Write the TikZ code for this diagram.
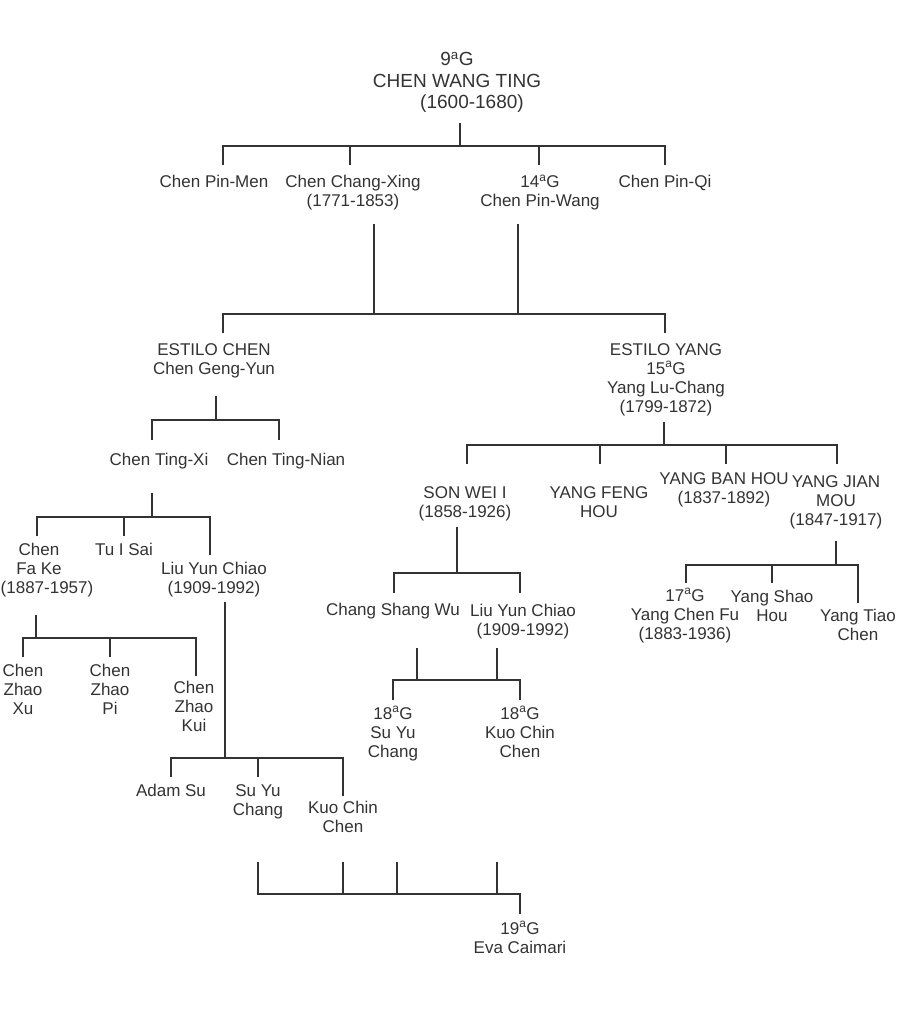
\documentclass[tikz,border=0pt]{standalone}
\usepackage{fontspec}
\setmainfont{Liberation Sans}
\definecolor{ink}{HTML}{333333}
\newcommand{\ord}{\textsuperscript{a}}
\begin{document}
\begin{tikzpicture}[x=1pt,y=-1pt,
  lbl/.style={font=\fontsize{17}{19}\selectfont, align=center, inner sep=0pt, anchor=base, text=ink},
  ttl/.style={lbl, font=\fontsize{19}{21.5}\selectfont},
  ln/.style={draw=ink, line width=2.3pt, line join=miter}]
\useasboundingbox[fill=white] (0,0) rectangle (920,1024);

% ---------- labels ----------
\node[ttl] (root) at (457,109) {9\ord G\\CHEN WANG TING\\\hspace*{30pt}(1600-1680)};
\node[lbl] (pmen) at (214,188) {Chen Pin-Men};
\node[lbl] (cxing) at (353,207) {Chen Chang-Xing\\(1771-1853)};
\node[lbl] (pwang) at (540,207) {14\ord G\\Chen Pin-Wang};
\node[lbl] (pqi) at (665,188) {Chen Pin-Qi};
\node[lbl] (echen) at (214,374) {ESTILO CHEN\\Chen Geng-Yun};
\node[lbl] (eyang) at (666,412) {ESTILO YANG\\15\ord G\\Yang Lu-Chang\\(1799-1872)};
\node[lbl] (tingxi) at (159,465) {Chen Ting-Xi};
\node[lbl] (tingnian) at (286,465) {Chen Ting-Nian};
\node[lbl] (fake) at (39,593) {Chen\\Fa Ke\\\hspace*{16pt}(1887-1957)};
\node[lbl] (tuisai) at (124,555) {Tu I Sai};
\node[lbl] (liu1) at (214,593) {Liu Yun Chiao\\(1909-1992)};
\node[lbl] (zxu) at (23,714) {Chen\\Zhao\\Xu};
\node[lbl] (zpi) at (110,714) {Chen\\Zhao\\Pi};
\node[lbl] (zkui) at (194,731) {Chen\\Zhao\\Kui};
\node[lbl] (adam) at (171,796) {Adam Su};
\node[lbl] (suyu1) at (258,815) {Su Yu\\Chang};
\node[lbl] (kuo1) at (343,832) {Kuo Chin\\Chen};
\node[lbl] (eva) at (520,953) {19\ord G\\Eva Caimari};
\node[lbl] (sonwei) at (465,517) {SON WEI I\\(1858-1926)};
\node[lbl] (yfeng) at (599,517) {YANG FENG\\HOU};
\node[lbl] (yban) at (724,503) {YANG BAN HOU\\(1837-1892)};
\node[lbl] (yjian) at (836,525) {YANG JIAN\\MOU\\(1847-1917)};
\node[lbl] (chang) at (393,615) {Chang Shang Wu};
\node[lbl] (liu2) at (523,635) {Liu Yun Chiao\\(1909-1992)};
\node[lbl] (suyu2) at (393,757) {18\ord G\\Su Yu\\Chang};
\node[lbl] (kuo2) at (520,757) {18\ord G\\Kuo Chin\\Chen};
\node[lbl] (chenfu) at (685,639) {17\ord G\\Yang Chen Fu\\(1883-1936)};
\node[lbl] (shao) at (772,621) {Yang Shao\\Hou};
\node[lbl] (tiao) at (858,640) {Yang Tiao\\Chen};

% ---------- connector points ----------
\coordinate (A0) at (460,123); \coordinate (Ab) at (0,146);
\coordinate (A1) at (223,165); \coordinate (A2) at (350,165);
\coordinate (A3) at (539,165); \coordinate (A4) at (665,165);

\coordinate (B1) at (374,224); \coordinate (B2) at (518,224); \coordinate (Bb) at (0,314);
\coordinate (B3) at (223,333); \coordinate (B4) at (665,333);

\coordinate (C0) at (216,396); \coordinate (Cb) at (0,420);
\coordinate (C1) at (152,440); \coordinate (C2) at (279,440);

\coordinate (D0) at (152,493); \coordinate (Db) at (0,517);
\coordinate (D1) at (37,536); \coordinate (D2) at (124,536); \coordinate (D3) at (210,555);

\coordinate (E0) at (36,615); \coordinate (Eb) at (0,638);
\coordinate (E1) at (23,657); \coordinate (E2) at (110,657); \coordinate (E3) at (196,676);

\coordinate (F0) at (225,602); \coordinate (Fb) at (0,758);
\coordinate (F1) at (171,777); \coordinate (F2) at (258,777); \coordinate (F3) at (343,796);

\coordinate (G1) at (258,862); \coordinate (G2) at (343,862); \coordinate (G3) at (397,862);
\coordinate (G4) at (497,862); \coordinate (Gb) at (0,894); \coordinate (G5) at (520,914);

\coordinate (H0) at (664,422); \coordinate (Hb) at (0,445);
\coordinate (H1) at (467,464); \coordinate (H2) at (600,464);
\coordinate (H3) at (726,464); \coordinate (H4) at (837,464);

\coordinate (I0) at (457,527); \coordinate (Ib) at (0,573);
\coordinate (I1) at (394,593); \coordinate (I2) at (520,593);

\coordinate (J1) at (417,648); \coordinate (J2) at (497,648); \coordinate (Jb) at (0,680);
\coordinate (J3) at (393,700); \coordinate (J4) at (520,700);

\coordinate (K0) at (836,541); \coordinate (Kb) at (0,565);
\coordinate (K1) at (686,583); \coordinate (K2) at (772,583); \coordinate (K3) at (858,603);

% ---------- connectors ----------
\draw[ln] (A0) -- (A0 |- Ab);
\draw[ln] (A1) -- (A1 |- Ab) -- (A4 |- Ab) -- (A4);
\draw[ln] (A2) -- (A2 |- Ab);
\draw[ln] (A3) -- (A3 |- Ab);

\draw[ln] (B1) -- (B1 |- Bb);
\draw[ln] (B2) -- (B2 |- Bb);
\draw[ln] (B3) -- (B3 |- Bb) -- (B4 |- Bb) -- (B4);

\draw[ln] (C0) -- (C0 |- Cb);
\draw[ln] (C1) -- (C1 |- Cb) -- (C2 |- Cb) -- (C2);

\draw[ln] (D0) -- (D0 |- Db);
\draw[ln] (D1) -- (D1 |- Db) -- (D3 |- Db) -- (D3);
\draw[ln] (D2) -- (D2 |- Db);

\draw[ln] (E0) -- (E0 |- Eb);
\draw[ln] (E1) -- (E1 |- Eb) -- (E3 |- Eb) -- (E3);
\draw[ln] (E2) -- (E2 |- Eb);

\draw[ln] (F0) -- (F0 |- Fb);
\draw[ln] (F1) -- (F1 |- Fb) -- (F3 |- Fb) -- (F3);
\draw[ln] (F2) -- (F2 |- Fb);

\draw[ln] (G1) -- (G1 |- Gb) -- (G5 |- Gb) -- (G5);
\draw[ln] (G2) -- (G2 |- Gb);
\draw[ln] (G3) -- (G3 |- Gb);
\draw[ln] (G4) -- (G4 |- Gb);

\draw[ln] (H0) -- (H0 |- Hb);
\draw[ln] (H1) -- (H1 |- Hb) -- (H4 |- Hb) -- (H4);
\draw[ln] (H2) -- (H2 |- Hb);
\draw[ln] (H3) -- (H3 |- Hb);

\draw[ln] (I0) -- (I0 |- Ib);
\draw[ln] (I1) -- (I1 |- Ib) -- (I2 |- Ib) -- (I2);

\draw[ln] (J1) -- (J1 |- Jb);
\draw[ln] (J2) -- (J2 |- Jb);
\draw[ln] (J3) -- (J3 |- Jb) -- (J4 |- Jb) -- (J4);

\draw[ln] (K0) -- (K0 |- Kb);
\draw[ln] (K1) -- (K1 |- Kb) -- (K3 |- Kb) -- (K3);
\draw[ln] (K2) -- (K2 |- Kb);
\end{tikzpicture}
\end{document}
